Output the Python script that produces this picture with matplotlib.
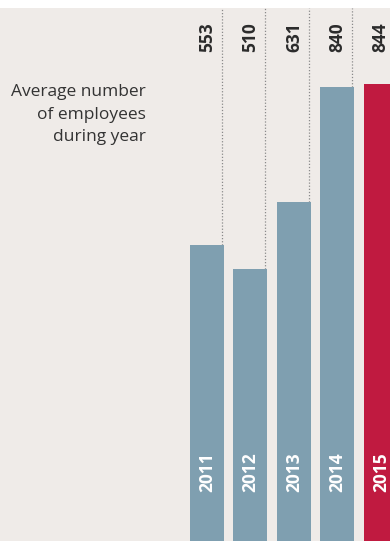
"""Average number of employees per year, vertical bar chart."""

import matplotlib.pyplot as plt

years = ["2011", "2012", "2013", "2014", "2015"]
employees = [553, 510, 631, 840, 844]
bar_colors = ["#7f9fb0", "#7f9fb0", "#7f9fb0", "#7f9fb0", "#c01a40"]
caption = "Average number\nof employees\nduring year"

BG = "#efebe8"
FONT = ["Open Sans", "DejaVu Sans"]

fig = plt.figure(figsize=(3.9, 5.41), dpi=100)
fig.patch.set_facecolor("white")
# the baseline sits a little below the bottom edge, so the bars are cut off there
ax = fig.add_axes([0, -10 / 541, 1, 543 / 541])
ax.set_facecolor(BG)

pos = list(range(len(years)))
ax.bar(pos, employees, width=0.78, color=bar_colors, zorder=2)

ymax = 982
for x, v, yr in zip(pos, employees, years):
    # dotted guide from the bar top up to the edge
    ax.plot([x + 0.345, x + 0.345], [v, ymax], color="#8a8a8a",
            linestyle=(0, (1, 1.5)), linewidth=0.9, zorder=1)
    ax.text(x, 929, str(v), rotation=90, ha="center", va="center",
            fontsize=12.5, fontweight="bold", color="#2b2b2b", family=FONT)
    ax.text(x, 143, yr, rotation=90, ha="center", va="center",
            fontsize=12.5, fontweight="bold", color="white", family=FONT, zorder=3)

ax.text(146 / 390, 1 - 76 / 543, caption, transform=ax.transAxes, ha="right", va="top",
        fontsize=12.5, color="#333333", family=FONT, linespacing=1.55)

ax.set_xlim(-4.76, 4.21)
ax.set_ylim(0, ymax)
ax.axis("off")
ax.add_patch(plt.Rectangle((0, 0), 1, 1, transform=ax.transAxes,
                           facecolor=BG, edgecolor="none", zorder=0))

fig.savefig("out.png", dpi=100, facecolor=fig.get_facecolor())
